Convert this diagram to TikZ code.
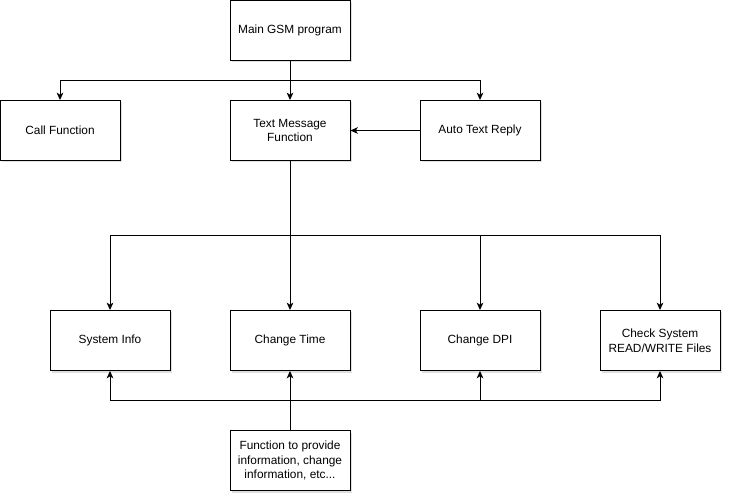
\documentclass[tikz,border=0pt]{standalone}
\usepackage{fontspec}
\setmainfont{Liberation Sans}
\usetikzlibrary{arrows.meta,shadows}
\begin{document}
\begin{tikzpicture}[x=0.75pt,y=-0.75pt,
  box/.style={draw=black, line width=0.75pt, fill=white, minimum width=90pt, minimum height=45pt,
    inner sep=0pt, align=center, font=\fontsize{8.9pt}{11pt}\selectfont,
    drop shadow={opacity=0.25, shadow xshift=1.5pt, shadow yshift=-1.5pt}},
  conn/.style={draw=black, line width=0.75pt},
  arr/.style={conn, -{Stealth[length=5.5pt,width=5pt,inset=1.5pt]}}]
\useasboundingbox (0,0) rectangle (732,502);
\node[box] (main) at (290,30.5) {Main GSM program};
\node[box] (call) at (60,130.5) {Call Function};
\node[box] (text) at (290,130.5) {Text Message\\Function};
\node[box] (auto) at (480,130.5) {Auto Text Reply};
\node[box] (sys) at (110,340.5) {System Info};
\node[box] (time) at (290,340.5) {Change Time};
\node[box] (dpi) at (480,340.5) {Change DPI};
\node[box] (chk) at (660,340.5) {Check System\\READ/WRITE Files};
\node[box] (func) at (290,460.5) {Function to provide\\information, change\\information, etc...};
% top fan-out
\coordinate (j1) at (290,80.5);
\draw[conn] (main.south) -- (j1);
\draw[arr] (j1) -| (call.north);
\draw[arr] (j1) -- (text.north);
\draw[arr] (j1) -| (auto.north);
\draw[arr] (auto.west) -- (text.east);
% middle fan-out
\coordinate (j2) at (290,235.5);
\draw[conn] (text.south) -- (j2);
\draw[arr] (j2) -| (sys.north);
\draw[arr] (j2) -- (time.north);
\draw[arr] (j2) -| (dpi.north);
\draw[arr] (j2) -| (chk.north);
% bottom fan-in
\coordinate (j3) at (290,400.5);
\draw[conn] (func.north) -- (j3);
\draw[arr] (j3) -| (sys.south);
\draw[arr] (j3) -- (time.south);
\draw[arr] (j3) -| (dpi.south);
\draw[arr] (j3) -| (chk.south);
\end{tikzpicture}
\end{document}
